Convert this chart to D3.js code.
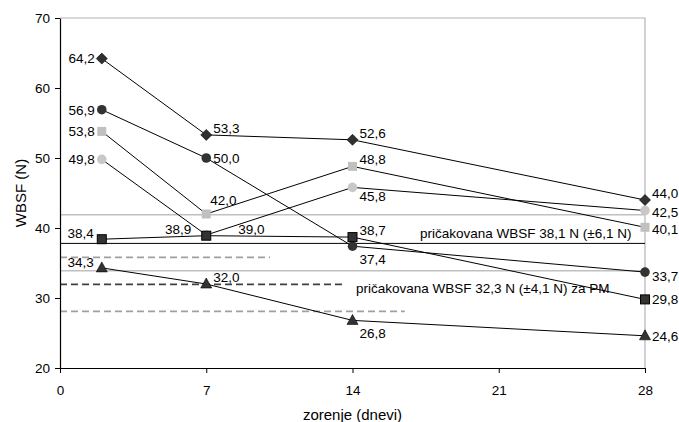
<!DOCTYPE html>
<html><head><meta charset="utf-8">
<script src="https://cdn.jsdelivr.net/npm/d3@7"></script>
<style>body{margin:0;background:#fff} text{font-family:"Liberation Sans",Arial,sans-serif;fill:#000}</style>
</head><body><svg id="c" width="679" height="422"></svg>
<script>
// ---- data ----
const days = [2, 7, 14, 28];
const sDiamond     = [64.2, 53.3, 52.6, 44.0];
const sCircleDark  = [56.9, 50.0, 37.4, 33.7];
const sSquareLight = [53.8, 42.0, 48.8, 40.1];
const sCircleLight = [49.8, 39.0, 45.8, 42.5];
const sSquareDark  = [38.4, 38.9, 38.7, 29.8];
const sTriangle    = [34.3, 32.0, 26.8, 24.6];
// label placement codes per point
const pDiamond     = ["l", "ur", "ur", "ur"];
const pCircleDark  = ["l", "r", "br", "rd"];
const pSquareLight = ["l", "u", "ur", "r2"];
const pCircleLight = ["l", "ur2", "br2", "rd2"];
const pSquareDark  = ["ul", "ul2", "ur", "r"];
const pTriangle    = ["ul", "ur", "br", "r"];
const xTicks = [0, 7, 14, 21, 28];
const yTicks = [20, 30, 40, 50, 60, 70];
// reference values
const refMain = 37.8;
const refBand = [41.9, 33.9];
const refPM = 31.95;
const refPMBand = [35.8, 28.1];
const refPMEnd = 13.6;           // dark dashed line ends (days)
const refPMBandEnd = [10.05, 16.5];
const refText1 = "pričakovana WBSF 38,1 N (±6,1 N)";
const refText2 = "pričakovana WBSF 32,3 N (±4,1 N) za PM";
const xTitle = "zorenje (dnevi)";
const yTitle = "WBSF (N)";

// ---- chart ----
const svg = d3.select("#c");
const L = 60, R = 645, T = 18, B = 368;
const x = d3.scaleLinear().domain([0, 28]).range([L, R]);
const y = d3.scaleLinear().domain([20, 70]).range([B, T]);
const fmt = v => d3.format(".1f")(v).replace(".", ",");

// plot border (grey top/right)
svg.append("path").attr("d", `M${L},${T}H${R}V${B}`).attr("fill", "none")
  .attr("stroke", "#b4b4b4").attr("stroke-width", 1.2);

// reference lines
const g0 = svg.append("g");
refBand.forEach(v => g0.append("line").attr("x1", L).attr("x2", R).attr("y1", y(v)).attr("y2", y(v))
  .attr("stroke", "#c0c0c0").attr("stroke-width", 1.5));
g0.append("line").attr("x1", L).attr("x2", R).attr("y1", y(refMain)).attr("y2", y(refMain))
  .attr("stroke", "#000").attr("stroke-width", 1);
refPMBand.forEach((v, i) => g0.append("line").attr("x1", L).attr("x2", x(refPMBandEnd[i]))
  .attr("y1", y(v)).attr("y2", y(v)).attr("stroke", "#a0a0a0").attr("stroke-width", 1.8)
  .attr("stroke-dasharray", "7,4"));
g0.append("line").attr("x1", L).attr("x2", x(refPMEnd)).attr("y1", y(refPM)).attr("y2", y(refPM))
  .attr("stroke", "#404040").attr("stroke-width", 1.8).attr("stroke-dasharray", "7,4");

svg.append("text").attr("x", 420).attr("y", y(refMain) - 5.5).attr("font-size", "13.5px").text(refText1);
svg.append("text").attr("x", 356).attr("y", y(refPM) + 8.5).attr("font-size", "13.5px").text(refText2);

// axes
const ax = svg.append("g").attr("transform", `translate(0,${B})`)
  .call(d3.axisBottom(x).tickValues(xTicks).tickSize(5).tickSizeOuter(0).tickPadding(12).tickFormat(d3.format("d")));
const ay = svg.append("g").attr("transform", `translate(${L},0)`)
  .call(d3.axisLeft(y).tickValues(yTicks).tickSize(5).tickSizeOuter(0).tickPadding(5));
[ax, ay].forEach(a => {
  a.select(".domain").attr("stroke", "#000").attr("stroke-width", 1.2);
  a.selectAll(".tick line").attr("stroke", "#000");
  a.selectAll("text").attr("font-size", "13.5px").attr("font-family", "'Liberation Sans',Arial,sans-serif").attr("fill", "#222");
});

svg.append("text").attr("x", (L + R) / 2).attr("y", 420).attr("text-anchor", "middle")
  .attr("font-size", "15px").text(xTitle);
svg.append("text").attr("transform", `translate(26,${(T + B) / 2}) rotate(-90)`).attr("text-anchor", "middle")
  .attr("font-size", "15px").text(yTitle);

// series
const series = [
  {v: sDiamond, p: pDiamond, shape: "diamond", fill: "#303030"},
  {v: sCircleDark, p: pCircleDark, shape: "circle", fill: "#333333"},
  {v: sSquareLight, p: pSquareLight, shape: "square", fill: "#c0c0c0"},
  {v: sCircleLight, p: pCircleLight, shape: "circle", fill: "#c8c8c8"},
  {v: sSquareDark, p: pSquareDark, shape: "square", fill: "#333333"},
  {v: sTriangle, p: pTriangle, shape: "triangle", fill: "#333333"}
];
const line = d3.line().x((d, i) => x(days[i])).y(d => y(d));
series.forEach(s => svg.append("path").attr("d", line(s.v)).attr("fill", "none")
  .attr("stroke", "#000").attr("stroke-width", 1));

function marker(g, s, cx, cy) {
  if (s.shape === "circle") {
    g.append("circle").attr("cx", cx).attr("cy", cy).attr("r", 4.8).attr("fill", s.fill);
  } else if (s.shape === "square") {
    const dark = s.fill !== "#c0c0c0";
    g.append("rect").attr("x", cx - 4.5).attr("y", cy - 4.5).attr("width", 9).attr("height", 9)
      .attr("fill", s.fill).attr("stroke", dark ? "#000" : "none").attr("stroke-width", 1);
  } else if (s.shape === "diamond") {
    g.append("path").attr("d", `M${cx},${cy - 5.5}L${cx + 5.5},${cy}L${cx},${cy + 5.5}L${cx - 5.5},${cy}Z`)
      .attr("fill", s.fill).attr("stroke", "#000").attr("stroke-width", 0.6);
  } else {
    g.append("path").attr("d", `M${cx},${cy - 6}L${cx + 5.5},${cy + 4}L${cx - 5.5},${cy + 4}Z`)
      .attr("fill", s.fill).attr("stroke", "#000").attr("stroke-width", 0.6);
  }
}
const mg = svg.append("g");
series.forEach(s => s.v.forEach((v, i) => marker(mg, s, x(days[i]), y(v))));

const place = {
  l:   {dx: -7, dy: 0, a: "end"},
  r:   {dx: 7, dy: 0, a: "start"},
  r2:  {dx: 7, dy: 2, a: "start"},
  rd:  {dx: 7, dy: 4, a: "start"},
  rd2: {dx: 7, dy: 2, a: "start"},
  ur:  {dx: 7, dy: -7, a: "start"},
  ur2: {dx: 32, dy: -6, a: "start"},
  u:   {dx: 4, dy: -14, a: "start"},
  ul:  {dx: -8, dy: -6, a: "end"},
  ul2: {dx: -15, dy: -7, a: "end"},
  br:  {dx: 7, dy: 13, a: "start"},
  br2: {dx: 7, dy: 9, a: "start"}
};
const lg = svg.append("g");
series.forEach(s => s.v.forEach((v, i) => {
  const p = place[s.p[i]];
  lg.append("text").attr("x", x(days[i]) + p.dx).attr("y", y(v) + p.dy).attr("dy", "0.36em")
    .attr("text-anchor", p.a).attr("font-size", "13.5px").attr("fill", "#222").text(fmt(v));
}));
</script></body></html>
